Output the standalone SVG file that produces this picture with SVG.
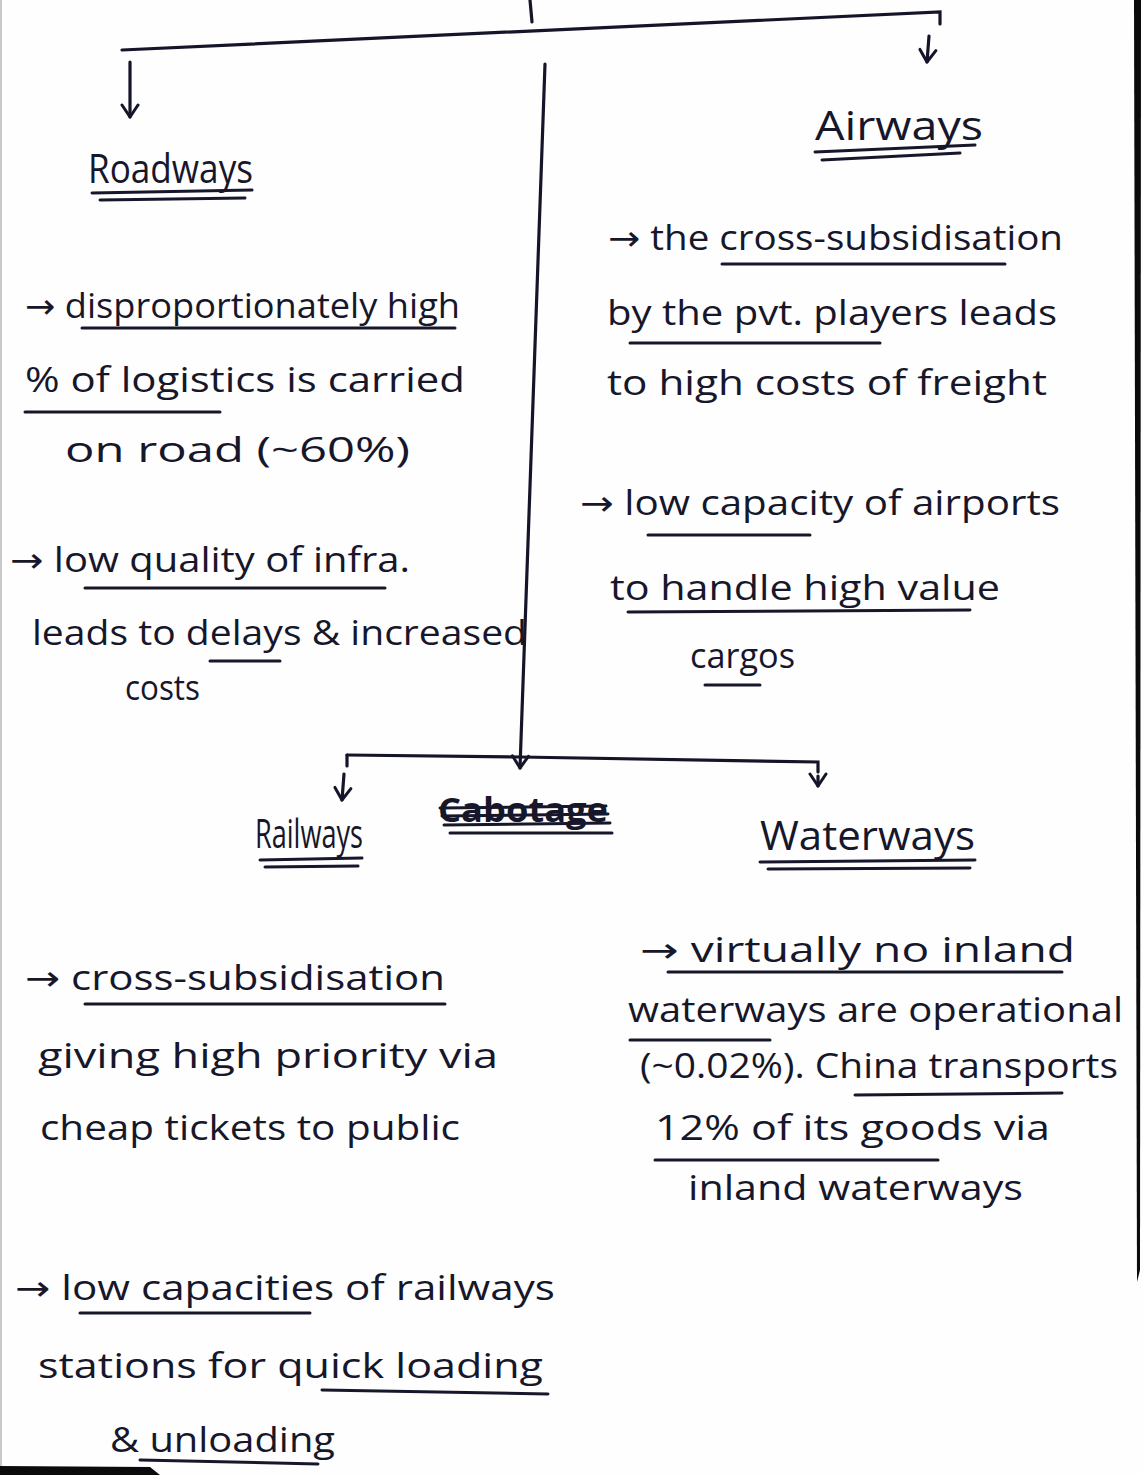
<svg xmlns="http://www.w3.org/2000/svg" width="1143" height="1475" viewBox="0 0 1143 1475">
  <style>
    .ink { fill: #17172b; font-family: "Open Sans", "Liberation Sans", sans-serif; font-size: 34px; }
    .head { fill: #17172b; font-family: "Open Sans", "Liberation Sans", sans-serif; font-size: 40px; }
    .arr { font-family: "DejaVu Sans", sans-serif; }
    .ul { fill: none; stroke: #17172b; stroke-width: 3; stroke-linecap: round; }
    .line { fill: none; stroke: #15152a; stroke-width: 3.2; stroke-linecap: round; }
  </style>
  <defs>
    <!-- open V arrowhead, drawn pointing along +x -->
    <marker id="vhead" viewBox="-15 -11 17 22" markerWidth="17" markerHeight="22" refX="0" refY="0" orient="auto" markerUnits="userSpaceOnUse">
      <path d="M-12,-8 L0,0 L-12,8" fill="none" stroke="#15152a" stroke-width="3" stroke-linecap="round" stroke-linejoin="round"/>
    </marker>
  </defs>

  <!-- paper -->
  <rect x="0" y="0" width="1143" height="1475" fill="#fefefe"/>
  <path d="M1,0 L1,1475" stroke="#c9c9c9" stroke-width="2"/>
  <path d="M1134,0 L1141,0 L1140,1270 L1137,1282 Z" fill="#0b0b0b"/>
  <path d="M0,1466 L150,1467 L160,1475 L0,1475 Z" fill="#0b0b0b"/>

  <!-- connectors -->
  <g id="connectors">
    <path class="line" d="M530,0 L532,22"/>
    <path class="line" d="M122,50 L940,12 L940,24"/>
    <path class="line" d="M130,62 L130,117" marker-end="url(#vhead)"/>
    <path class="line" d="M929,36 L927,62" marker-end="url(#vhead)"/>
    <path class="line" d="M545,64 L520,768" marker-end="url(#vhead)"/>
    <path class="line" d="M347,755 L520,757 L818,762 L818,772"/>
    <path class="line" d="M347,755 L347,766"/>
    <path class="line" d="M344,774 L342,800" marker-end="url(#vhead)"/>
    <path class="line" d="M818,776 L818,786" marker-end="url(#vhead)"/>
  </g>

  <!-- Roadways -->
  <g id="roadways">
    <text class="head" x="88" y="183" textLength="165" lengthAdjust="spacingAndGlyphs">Roadways</text>
    <path class="ul" d="M92,193 L252,190 M100,200 L245,198"/>
    <text class="ink" x="25" y="318" textLength="435" lengthAdjust="spacingAndGlyphs"><tspan class="arr">→</tspan> disproportionately high</text>
    <path class="ul" d="M82,328 L455,328"/>
    <text class="ink" x="25" y="392" textLength="440" lengthAdjust="spacingAndGlyphs">% of logistics is carried</text>
    <path class="ul" d="M25,412 L220,412"/>
    <text class="ink" x="65" y="462" textLength="345" lengthAdjust="spacingAndGlyphs">on road (~60%)</text>
    <text class="ink" x="10" y="572" textLength="400" lengthAdjust="spacingAndGlyphs"><tspan class="arr">→</tspan> low quality of infra.</text>
    <path class="ul" d="M85,588 L385,588"/>
    <text class="ink" x="32" y="645" textLength="495" lengthAdjust="spacingAndGlyphs">leads to delays &amp; increased</text>
    <path class="ul" d="M210,661 L280,661"/>
    <text class="ink" x="125" y="700" textLength="75" lengthAdjust="spacingAndGlyphs">costs</text>
  </g>

  <!-- Airways -->
  <g id="airways">
    <text class="head" x="815" y="140" textLength="168" lengthAdjust="spacingAndGlyphs">Airways</text>
    <path class="ul" d="M815,152 L975,145 M822,160 L960,153"/>
    <text class="ink" x="608" y="250" textLength="455" lengthAdjust="spacingAndGlyphs"><tspan class="arr">→</tspan> the cross-subsidisation</text>
    <path class="ul" d="M722,264 L1005,264"/>
    <text class="ink" x="607" y="325" textLength="450" lengthAdjust="spacingAndGlyphs">by the pvt. players leads</text>
    <path class="ul" d="M630,343 L880,343"/>
    <text class="ink" x="607" y="395" textLength="440" lengthAdjust="spacingAndGlyphs">to high costs of freight</text>
    <text class="ink" x="580" y="515" textLength="480" lengthAdjust="spacingAndGlyphs"><tspan class="arr">→</tspan> low capacity of airports</text>
    <path class="ul" d="M648,535 L810,535"/>
    <text class="ink" x="610" y="600" textLength="390" lengthAdjust="spacingAndGlyphs">to handle high value</text>
    <path class="ul" d="M628,612 L970,610"/>
    <text class="ink" x="690" y="668" textLength="105" lengthAdjust="spacingAndGlyphs">cargos</text>
    <path class="ul" d="M705,685 L760,685"/>
  </g>

  <!-- crossed-out word between the two lower branches -->
  <g id="struck-word">
    <text class="ink" x="438" y="822" textLength="170" lengthAdjust="spacingAndGlyphs" font-weight="bold">Cabotage</text>
    <path class="ul" d="M440,808 L606,806 M442,816 L608,814 M444,825 L610,823 M450,833 L612,833"/>
  </g>

  <!-- Railways -->
  <g id="railways">
    <text class="head" x="255" y="848" textLength="108" lengthAdjust="spacingAndGlyphs">Railways</text>
    <path class="ul" d="M260,860 L362,858 M265,867 L358,866"/>
    <text class="ink" x="25" y="990" textLength="420" lengthAdjust="spacingAndGlyphs"><tspan class="arr">→</tspan> cross-subsidisation</text>
    <path class="ul" d="M85,1004 L445,1004"/>
    <text class="ink" x="38" y="1068" textLength="460" lengthAdjust="spacingAndGlyphs">giving high priority via</text>
    <text class="ink" x="40" y="1140" textLength="420" lengthAdjust="spacingAndGlyphs">cheap tickets to public</text>
    <text class="ink" x="15" y="1300" textLength="540" lengthAdjust="spacingAndGlyphs"><tspan class="arr">→</tspan> low capacities of railways</text>
    <path class="ul" d="M80,1313 L310,1313"/>
    <text class="ink" x="38" y="1378" textLength="505" lengthAdjust="spacingAndGlyphs">stations for quick loading</text>
    <path class="ul" d="M322,1390 L548,1394"/>
    <text class="ink" x="110" y="1452" textLength="225" lengthAdjust="spacingAndGlyphs">&amp; unloading</text>
    <path class="ul" d="M140,1460 L318,1464"/>
  </g>

  <!-- Waterways -->
  <g id="waterways">
    <text class="head" x="760" y="850" textLength="215" lengthAdjust="spacingAndGlyphs">Waterways</text>
    <path class="ul" d="M760,862 L975,860 M768,869 L970,868"/>
    <text class="ink" x="640" y="962" textLength="435" lengthAdjust="spacingAndGlyphs"><tspan class="arr">→</tspan> virtually no inland</text>
    <path class="ul" d="M668,972 L1062,972"/>
    <text class="ink" x="628" y="1022" textLength="495" lengthAdjust="spacingAndGlyphs">waterways are operational</text>
    <path class="ul" d="M630,1040 L770,1040"/>
    <text class="ink" x="640" y="1078" textLength="478" lengthAdjust="spacingAndGlyphs">(~0.02%). China transports</text>
    <path class="ul" d="M855,1095 L1062,1093"/>
    <text class="ink" x="655" y="1140" textLength="395" lengthAdjust="spacingAndGlyphs">12% of its goods via</text>
    <path class="ul" d="M655,1160 L938,1160"/>
    <text class="ink" x="688" y="1200" textLength="335" lengthAdjust="spacingAndGlyphs">inland waterways</text>
  </g>
</svg>
